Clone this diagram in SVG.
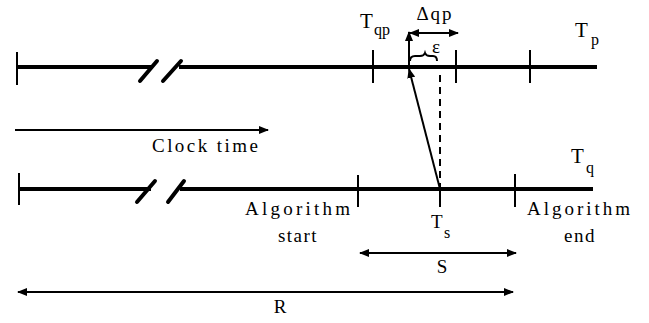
<svg xmlns="http://www.w3.org/2000/svg" width="649" height="323" viewBox="0 0 649 323">
<style>
.axis{stroke:#000;stroke-width:4;fill:none}
.tick{stroke:#000;stroke-width:2;fill:none}
.slash{stroke:#000;stroke-width:4;fill:none;stroke-linecap:round}
.arr{stroke:#000;stroke-width:2;fill:none}
text{font-family:'Liberation Serif','DejaVu Serif','Times New Roman',serif;fill:#000}
.lbl{font-size:19px}
.big{font-size:21px}
.sub{font-size:16px}
</style>
<defs>
<marker id="ah" viewBox="0 0 10 8" refX="9" refY="4" markerWidth="10" markerHeight="8" markerUnits="userSpaceOnUse" orient="auto-start-reverse">
<path d="M0,0 L10,4 L0,8 Z" fill="#000"/>
</marker>
</defs>
<rect width="649" height="323" fill="#fff"/>
<g id="timeline-p">
<line class="axis" x1="17" y1="67" x2="151" y2="67"/>
<line class="axis" x1="179" y1="67" x2="597" y2="67"/>
<line class="tick" x1="17" y1="52" x2="17" y2="85"/>
<line class="slash" x1="140" y1="81" x2="157" y2="61"/>
<line class="slash" x1="163" y1="81" x2="181" y2="61"/>
<line class="tick" x1="373" y1="50" x2="373" y2="83"/>
<line class="tick" x1="456" y1="50" x2="456" y2="83"/>
<line class="tick" x1="530" y1="50" x2="530" y2="83"/>
<text class="big" x="360" y="28">T</text><text class="sub" x="374" y="35">qp</text>
<text class="big" x="575" y="37">T</text><text class="sub" x="591" y="45">p</text>
</g>
<g id="timeline-q">
<line class="axis" x1="18" y1="189" x2="151" y2="189"/>
<line class="axis" x1="180" y1="189" x2="593" y2="189"/>
<line class="tick" x1="19" y1="173" x2="19" y2="205"/>
<line class="slash" x1="137" y1="202" x2="155" y2="181"/>
<line class="slash" x1="168" y1="202" x2="184" y2="181"/>
<line class="tick" x1="358" y1="175" x2="358" y2="207"/>
<line class="tick" x1="440" y1="189" x2="440" y2="207"/>
<line class="tick" x1="515" y1="174" x2="515" y2="207"/>
<text class="big" x="571" y="163">T</text><text class="sub" x="586" y="173">q</text>
</g>
<g id="clock-time">
<line class="arr" x1="15" y1="130" x2="268" y2="130" marker-end="url(#ah)"/>
<text class="lbl" x="152" y="152" textLength="106" lengthAdjust="spacing">Clock time</text>
</g>
<g id="algorithm-start">
<text class="lbl" x="245" y="215" textLength="105" lengthAdjust="spacing">Algorithm</text>
<text class="lbl" x="298" y="242" text-anchor="middle" letter-spacing="1.5">start</text>
</g>
<g id="ts">
<text class="lbl" x="431" y="228">T</text><text class="sub" x="444" y="238">s</text>
</g>
<g id="algorithm-end">
<text class="lbl" x="527" y="215" textLength="103" lengthAdjust="spacing">Algorithm</text>
<text class="lbl" x="580" y="242" text-anchor="middle" letter-spacing="1.5">end</text>
</g>
<g id="delta-qp">
<text class="lbl" x="435" y="20" text-anchor="middle" letter-spacing="2">Δqp</text>
<text class="lbl" x="436" y="53" text-anchor="middle">ε</text>
<path class="arr" stroke-width="1.6" d="M410,61 Q410,56 415,56 L420,56 Q424,56 425,53 Q426,56 430,56 L433,56 Q437,56 437,61"/>
</g>
<g id="S-label"><text class="lbl" x="442" y="273" text-anchor="middle">S</text></g>
<g id="R-label"><text class="lbl" x="280" y="313" text-anchor="middle">R</text></g>
<g id="connectors">
<line class="arr" x1="409" y1="67" x2="409" y2="32" marker-end="url(#ah)"/>
<line class="arr" x1="410" y1="33" x2="458" y2="33" marker-start="url(#ah)" marker-end="url(#ah)"/>
<line class="arr" x1="440" y1="75" x2="440" y2="187" stroke-dasharray="7,5"/>
<line class="arr" x1="440" y1="189" x2="409" y2="69" marker-end="url(#ah)"/>
<line class="arr" x1="360" y1="253" x2="516" y2="253" marker-start="url(#ah)" marker-end="url(#ah)"/>
<line class="arr" x1="18" y1="292" x2="513" y2="292" marker-start="url(#ah)" marker-end="url(#ah)"/>
</g>
</svg>
